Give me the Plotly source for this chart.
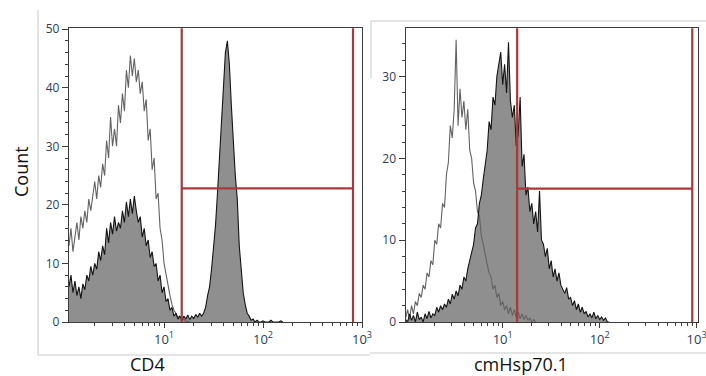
import numpy as np
import plotly.graph_objects as go

# ---------------- data (histogram counts per log10 channel bin) ----------------
LOG_STEP = 0.02

CD4_LOG_START = 0.04
CD4_ISOTYPE = [13, 16, 12, 15, 17, 14, 18, 16, 19, 17, 21, 19, 22, 24, 21, 25, 23, 27, 25, 31,
               28, 35, 30, 33, 30, 37, 34, 39, 36, 43, 40, 45.5, 42, 45, 41, 43, 39, 41, 36, 38,
               31, 33, 26, 28, 21, 22, 16, 14, 10, 8, 6, 4.5, 3, 2, 1.5, 0.8, 1, 0.3, 0.5, 0,
               0.2, 0]
CD4_STAINED = [6, 8, 5, 7, 4.5, 6, 4, 6.5, 5.5, 8, 7, 9.5, 8, 10, 9, 12, 10.5, 13, 11.5, 16,
               13.5, 17, 15, 18, 15.5, 17, 16, 19, 17, 20.5, 18, 21, 18.5, 21.5, 19, 17, 18, 14.5, 16, 13,
               14, 11, 12, 9.5, 10, 7, 8, 5, 6, 3.5, 4, 2, 2.5, 1, 1.5, 0.5, 1, 0.3, 1, 0.5,
               1.2, 0.4, 1, 0.6, 1.3, 0.8, 1.5, 1, 1.5, 2.5, 4.5, 6, 9, 12.5, 16.5, 22, 28, 35, 41, 46,
               48, 44, 37, 30, 25, 21, 13, 9, 5, 3, 1.5, 1, 0.3, 0.5, 0, 0.3, 0, 0, 0.2, 0,
               0, 0, 0.3, 0, 0, 0, 0, 0.2, 0]

HSP_LOG_START = 0.0
HSP_ISOTYPE = [0.5, 1.5, 0.3, 2, 1, 2.5, 2, 3.5, 3, 4.5, 4, 6, 5.5, 7.5, 7, 10, 9.5, 12, 11.5, 14.5,
               14, 18, 19.5, 24, 22.5, 26, 34.5, 24, 28.5, 25, 27, 23.5, 26, 21, 20, 17, 16, 13.5, 13, 10.5,
               9.5, 8, 7, 6, 5.5, 4, 4.5, 3, 3.5, 2, 2.5, 1.5, 2, 1, 1.8, 0.8, 1.5, 0.5, 1.2, 0.4,
               1, 0.3, 0.8, 0.2, 0.5, 0, 0.3, 0]
HSP_STAINED = [0.3, 0, 1, 0.2, 0.8, 0, 1.2, 0.3, 0.6, 0, 1, 0.4, 1.3, 0.5, 1, 0.8, 1.8, 1.2, 2, 1.5,
               2.2, 1.8, 2.8, 2.2, 3.4, 2.8, 3.8, 3.2, 4.5, 4, 5.5, 5, 6.5, 7.5, 8.8, 9.5, 11.5, 12, 14.5, 15.5,
               17.5, 19, 21, 24.5, 23.5, 27.5, 26.5, 30, 31.5, 33, 29, 31.5, 28, 34.2, 27, 25, 26.5, 21.5, 23, 27.5,
               19, 20.5, 15.5, 16.5, 13.5, 14.5, 12, 13.5, 11, 16, 10, 9.5, 8, 9, 6.5, 7.5, 5.5, 6.5, 5, 6,
               4.5, 4, 3.5, 4.2, 2.8, 3, 2, 2.6, 1.5, 2.2, 1.2, 1.8, 1, 1.3, 0.6, 1, 0.5, 1.2, 0.4, 0.8,
               0.3, 0.6, 0.2, 0.5, 0, 0]

# gates: [lower bound, upper bound, horizontal level]
CD4_GATE = [15.1, 811, 22.8]
HSP_GATE = [14.1, 901, 16.3]

X_TICKS = [10, 100, 1000]
X_TICK_TEXT = ["10<sup>1</sup>", "10<sup>2</sup>", "10<sup>3</sup>"]
X_MINOR = [2, 3, 4, 5, 6, 7, 8, 9, 20, 30, 40, 50, 60, 70, 80, 90,
           200, 300, 400, 500, 600, 700, 800, 900]
CD4_Y_TICKS = [0, 10, 20, 30, 40, 50]
HSP_Y_TICKS = [0, 10, 20, 30]


def xs(start, n):
    return 10 ** (start + LOG_STEP * np.arange(n))


W, H = 706, 376
FILL = "#8f8f8f"
BLACK = "#141414"
GREY = "#626262"
RED = "#a63a3a"
TICKC = "#2e3b5a"

fig = go.Figure()

panels = [
    ("x", "y", CD4_LOG_START, CD4_ISOTYPE, CD4_STAINED),
    ("x2", "y2", HSP_LOG_START, HSP_ISOTYPE, HSP_STAINED),
]
for xa, ya, st, iso, stn in panels:
    xv_s = xs(st, len(stn))
    xv_i = xs(st, len(iso))
    fig.add_trace(go.Scatter(x=xv_s, y=stn, mode="lines", fill="tozeroy", fillcolor=FILL,
                             line=dict(width=0, color=FILL), xaxis=xa, yaxis=ya, showlegend=False))
    fig.add_trace(go.Scatter(x=xv_i, y=iso, mode="lines", line=dict(width=1.1, color=GREY),
                             xaxis=xa, yaxis=ya, showlegend=False))
    fig.add_trace(go.Scatter(x=xv_s, y=stn, mode="lines", line=dict(width=1.1, color=BLACK),
                             xaxis=xa, yaxis=ya, showlegend=False))

def px(v):
    return v / W

def py(v):
    return 1 - v / H

axis_common = dict(showgrid=False, zeroline=False, showline=True, mirror=True, automargin=False,
                   ticklabeloverflow="allow",
                   linecolor="#3c3c3c", linewidth=1.4, ticks="outside", tickcolor="#3c3c3c",
                   tickfont=dict(family="Open Sans", size=12, color=TICKC))

xcommon = dict(axis_common, type="log", tickvals=X_TICKS, ticktext=X_TICK_TEXT, ticklen=5,
               tickwidth=1.2,
               tickfont=dict(family="Open Sans", size=13, color=TICKC),
               minor=dict(tickvals=X_MINOR, ticks="outside", ticklen=3, tickcolor="#3c3c3c", tickwidth=1))
ycommon = dict(axis_common, ticklen=6, tickwidth=1.2,
               minor=dict(dtick=2, ticks="outside", ticklen=3, tickcolor="#3c3c3c", tickwidth=1))

ydom = [py(322), py(28.3)]
fig.update_layout(
    width=W, height=H, margin=dict(l=0, r=0, t=0, b=0, autoexpand=False),
    paper_bgcolor="white", plot_bgcolor="white",
    xaxis=dict(xcommon, domain=[px(69), px(362)], range=[0.04, 3.0], anchor="y"),
    yaxis=dict(ycommon, domain=ydom, range=[0, 50.15], tickvals=CD4_Y_TICKS, anchor="x"),
    xaxis2=dict(xcommon, domain=[px(405.7), px(698.3)], range=[0.0, 3.017], anchor="y2"),
    yaxis2=dict(ycommon, domain=ydom, range=[0, 35.9], tickvals=HSP_Y_TICKS, anchor="x2"),
)

shapes = []
for (xr, yr, g) in [("x", "y", CD4_GATE), ("x2", "y2", HSP_GATE)]:
    lo, hi, lev = g
    for xv in (lo, hi):
        shapes.append(dict(type="line", xref=xr, yref=yr + " domain", x0=xv, x1=xv, y0=0, y1=1,
                           line=dict(color=RED, width=2.2)))
    shapes.append(dict(type="line", xref=xr, yref=yr, x0=lo, x1=hi, y0=lev, y1=lev,
                       line=dict(color=RED, width=2.2)))

LIGHT = "#c9c9c9"
frame = [
    (38, 10, 38, 355), (38, 355, 370, 355),
    (371, 21, 706, 21), (371, 21, 371, 78), (370, 353, 706, 353),
]
for x0, y0, x1, y1 in frame:
    shapes.append(dict(type="line", xref="paper", yref="paper", x0=px(x0), x1=px(x1),
                       y0=py(y0), y1=py(y1), line=dict(color=LIGHT, width=1)))
fig.update_layout(shapes=shapes)

tfont = dict(family="Open Sans", size=18, color="#111111")
fig.add_annotation(text="Count", x=px(21), y=py(172), xref="paper", yref="paper", textangle=-90,
                   showarrow=False, font=tfont, xanchor="center", yanchor="middle")
fig.add_annotation(text="CD4", x=px(147), y=py(364), xref="paper", yref="paper",
                   showarrow=False, font=tfont, xanchor="center", yanchor="middle")
fig.add_annotation(text="cmHsp70.1", x=px(521), y=py(364), xref="paper", yref="paper",
                   showarrow=False, font=tfont, xanchor="center", yanchor="middle")

fig.write_html("out.html")
